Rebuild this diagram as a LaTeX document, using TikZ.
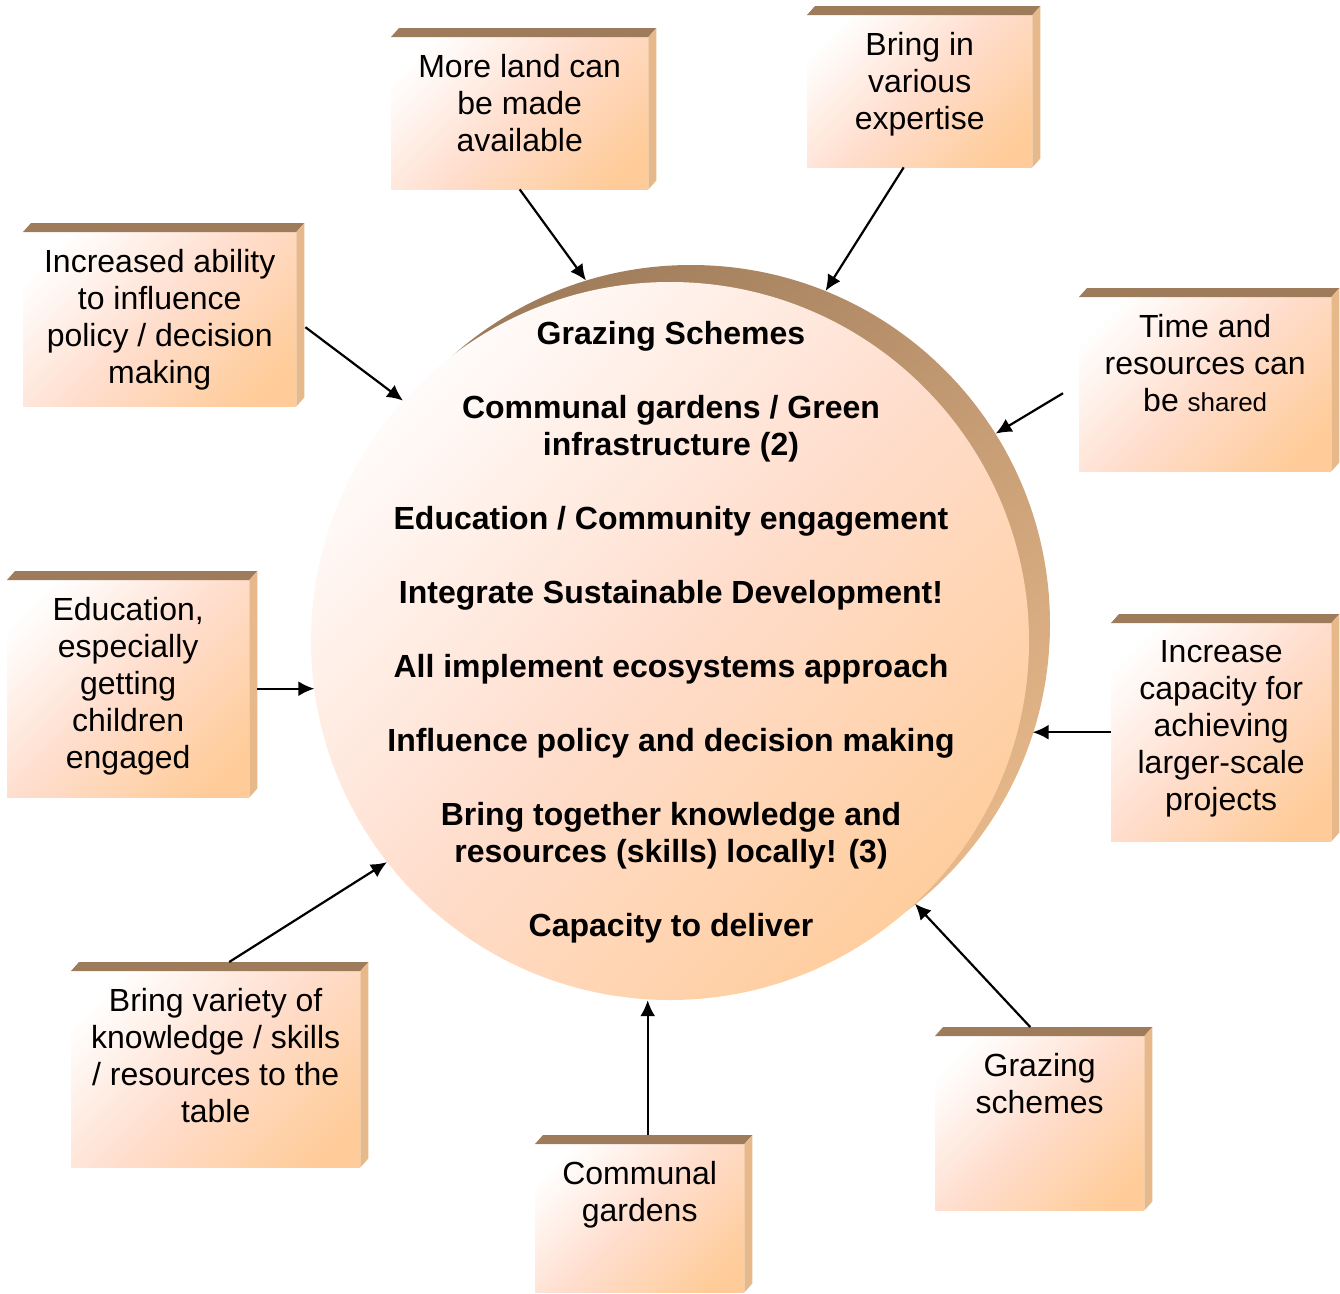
\documentclass[tikz,border=0pt]{standalone}
\usepackage{fontspec}
\setmainfont{Liberation Sans}
\usetikzlibrary{positioning,arrows.meta}
\definecolor{slabtop}{HTML}{9E7B5A}
\definecolor{slabside}{HTML}{E6B88A}
\definecolor{peachmid}{HTML}{FFDDCC}
\definecolor{peachend}{HTML}{FFCC99}
\pgfdeclarehorizontalshading{peach}{100bp}{color(0bp)=(white); color(22bp)=(white);
  color(50bp)=(peachmid); color(78bp)=(peachend); color(100bp)=(peachend)}
\begin{document}
\begin{tikzpicture}[x=1pt, y=-1pt,
    slab/.style={anchor=north west, inner sep=0pt, shading=peach, shading angle=-45},
    slabtext/.style={align=center, inner sep=0pt, font=\fontsize{32}{37}\selectfont},
    hub/.style={circle, inner sep=0pt, minimum size=718pt},
    hubtext/.style={align=center, inner sep=0pt,
      font=\fontsize{32}{37}\selectfont\bfseries}]
  \useasboundingbox (0,0) rectangle (1340,1293);
  \node[hub, top color=slabtop, bottom color=slabside, shading angle=40] (rim) at (691,624) {};
  \node[hub, shading=peach, shading angle=-45] (disc) at (670,641) {};
  \node[hubtext, anchor=north] (goals) at (671,321) {Grazing Schemes\\[37pt]
    Communal gardens / Green\\infrastructure (2)\\[37pt]
    Education / Community engagement\\[37pt]
    Integrate Sustainable Development!\\[37pt]
    All implement ecosystems approach\\[37pt]
    Influence policy and decision making\\[37pt]
    Bring together knowledge and\\resources (skills) locally! (3)\\[37pt]
    Capacity to deliver};
  \begin{scope}
    \node[slab, minimum width=257pt, minimum height=152pt] (land) at (391,37) {};
    \node[slab, minimum width=225pt, minimum height=152pt] (expert) at (807,15) {};
    \node[slab, minimum width=273pt, minimum height=174pt] (infl) at (23,232) {};
    \node[slab, minimum width=252pt, minimum height=174pt] (shared) at (1079,297) {};
    \node[slab, minimum width=242pt, minimum height=217pt] (educ) at (7,580) {};
    \node[slab, minimum width=220pt, minimum height=218pt] (capacity) at (1111,623) {};
    \node[slab, minimum width=289pt, minimum height=196pt] (variety) at (71,971) {};
    \node[slab, minimum width=209pt, minimum height=148pt] (communal) at (535,1144) {};
    \node[slab, minimum width=209pt, minimum height=174pt] (grazing) at (935,1036) {};
  \end{scope}
  \foreach \n in {land,expert,infl,shared,educ,capacity,variety,communal,grazing} {
    \fill[slabtop] (\n.north west) -- ++(8,-9) -- ([shift={(8,-9)}]\n.north east)
      -- (\n.north east) -- cycle;
    \fill[slabside] (\n.north east) -- ++(8,-9) -- ([shift={(8,-9)}]\n.south east)
      -- (\n.south east) -- cycle;
  }
  \begin{scope}[every node/.style={slabtext}]
    \node[below=17pt of land.north] (landtxt) {More land can\\be made\\available};
    \node[below=17pt of expert.north] (experttxt) {Bring in\\various\\expertise};
    \node[below=17pt of infl.north] (infltxt) {Increased ability\\to influence\\policy / decision\\making};
    \node[below=17pt of shared.north] (sharedtxt) {Time and\\resources can\\be {\fontsize{26}{37}\selectfont shared}};
    \node[below=17pt of educ.north] (eductxt) {Education,\\especially\\getting\\children\\engaged};
    \node[below=17pt of capacity.north] (capacitytxt) {Increase\\capacity for\\achieving\\larger-scale\\projects};
    \node[below=17pt of variety.north] (varietytxt) {Bring variety of\\knowledge / skills\\/ resources to the\\table};
    \node[below=17pt of communal.north] (communaltxt) {Communal\\gardens};
    \node[below=17pt of grazing.north] (grazingtxt) {Grazing\\schemes};
  \end{scope}
  \begin{scope}[->, >={Latex[length=16pt,width=15pt]}, line width=2.2pt]
    \draw (land.south) -- (rim.107);
    \draw ([xshift=-16pt]expert.south) -- (rim.68);
    \draw ([xshift=9pt,yshift=-8pt]infl.east) -- (disc.138);
    \draw ([xshift=-16pt,yshift=-9pt]shared.west) -- (rim.32);
    \draw ([xshift=8pt]educ.east) -- (disc.188 |- educ.east);
    \draw (capacity.west) -- (rim.342 |- capacity.west);
    \draw ([xshift=13.5pt,yshift=9pt]variety.north) -- (disc.218);
    \draw ([xshift=8pt,yshift=9pt]communal.north) -- ([xshift=8pt]communal.north |- disc.south);
    \draw ([xshift=-9.5pt,yshift=9pt]grazing.north) -- (disc.313);
  \end{scope}
\end{tikzpicture}
\end{document}
